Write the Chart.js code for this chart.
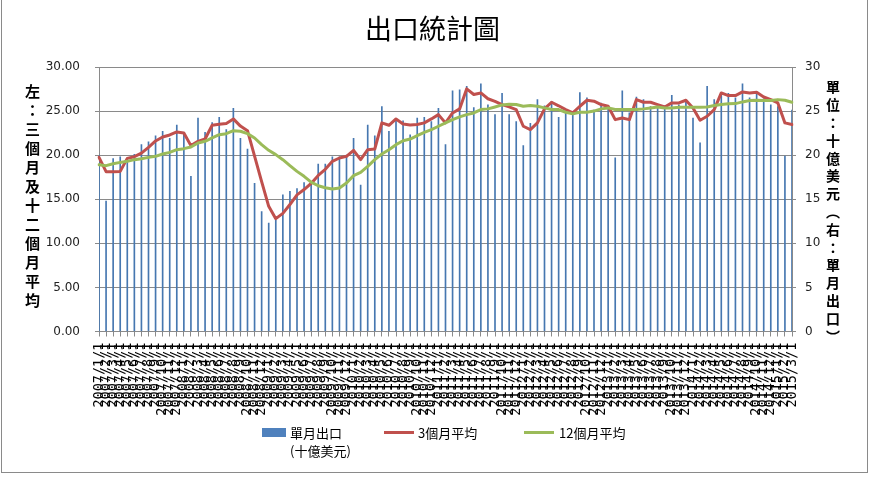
<!DOCTYPE html>
<html lang="zh-TW">
<head>
<meta charset="utf-8">
<script src="https://cdn.jsdelivr.net/npm/chart.js@4.4.0/dist/chart.umd.min.js"></script>
<style>
html,body{margin:0;padding:0;background:#fff;}
#wrap{position:relative;width:871px;height:477px;overflow:hidden;background:#fff;}
#c{position:absolute;left:0;top:0;}
.frame{position:absolute;left:1px;top:-1px;width:865px;height:472px;border:1px solid #8a8a8a;}
#title{position:absolute;left:0;top:13px;width:865px;text-align:center;font-family:"Noto Sans CJK TC";font-size:27px;line-height:30px;color:#000;}
.vt{position:absolute;writing-mode:vertical-rl;font-family:"Noto Sans CJK TC";font-weight:bold;color:#000;white-space:nowrap;}
.lt{position:absolute;font-family:"Noto Sans CJK TC";font-size:13px;line-height:18px;color:#000;white-space:nowrap;}
.key{position:absolute;}
</style>
</head>
<body>
<div id="wrap">
<canvas id="c" width="871" height="477"></canvas>
<div class="frame"></div>
<div id="title">出口統計圖</div>
<div class="vt" style="left:25px;top:84px;font-size:15px;line-height:15px;letter-spacing:4px;">左：三個月及十二個月平均</div>
<div class="vt" style="left:826px;top:80px;font-size:14px;line-height:14px;letter-spacing:3.8px;">單位：十億美元（右：單月出口）</div>
<div class="key" style="left:262px;top:428px;width:24px;height:9px;background:#4F81BD;"></div>
<div class="lt" style="left:290px;top:424px;">單月出口<br>(十億美元)</div>
<div class="key" style="left:384px;top:431px;width:30px;height:3px;background:#C0504D;"></div>
<div class="lt" style="left:418px;top:424px;">3個月平均</div>
<div class="key" style="left:524px;top:431px;width:30px;height:3px;background:#9BBB59;"></div>
<div class="lt" style="left:559px;top:424px;">12個月平均</div>
</div>
<script>
const categories = [
"2007/1/1","2007/2/1","2007/3/1","2007/4/1","2007/5/1","2007/6/1","2007/7/1","2007/8/1","2007/9/1","2007/10/1","2007/11/1","2007/12/1",
"2008/1/1","2008/2/1","2008/3/1","2008/4/1","2008/5/1","2008/6/1","2008/7/1","2008/8/1","2008/9/1","2008/10/1","2008/11/1","2008/12/1",
"2009/1/1","2009/2/1","2009/3/1","2009/4/1","2009/5/1","2009/6/1","2009/7/1","2009/8/1","2009/9/1","2009/10/1","2009/11/1","2009/12/1",
"2010/1/1","2010/2/1","2010/3/1","2010/4/1","2010/5/1","2010/6/1","2010/7/1","2010/8/1","2010/9/1","2010/10/1","2010/11/1","2010/12/1",
"2011/1/1","2011/2/1","2011/3/1","2011/4/1","2011/5/1","2011/6/1","2011/7/1","2011/8/1","2011/9/1","2011/10/1","2011/11/1","2011/12/1",
"2012/1/1","2012/2/1","2012/3/1","2012/4/1","2012/5/1","2012/6/1","2012/7/1","2012/8/1","2012/9/1","2012/10/1","2012/11/1","2012/12/1",
"2013/1/1","2013/2/1","2013/3/1","2013/4/1","2013/5/1","2013/6/1","2013/7/1","2013/8/1","2013/9/1","2013/10/1","2013/11/1","2013/12/1",
"2014/1/1","2014/2/1","2014/3/1","2014/4/1","2014/5/1","2014/6/1","2014/7/1","2014/8/1","2014/9/1","2014/10/1","2014/11/1","2014/12/1",
"2015/1/1","2015/2/1","2015/3/1"];

// 單月出口 (十億美元) - right axis
const monthlyExports = [
20.0,14.8,19.6,19.8,19.5,20.1,21.2,21.5,22.2,22.7,21.9,23.4,
22.4,17.6,24.2,22.6,23.7,24.3,22.9,25.3,21.9,20.7,16.8,13.6,
12.3,12.6,15.5,15.9,16.2,16.9,16.9,19.0,19.0,19.8,19.8,20.0,
21.9,16.6,23.4,22.2,25.5,22.7,24.1,23.9,22.3,24.2,24.3,23.8,
25.3,21.2,27.3,27.4,27.8,25.4,28.1,25.7,24.6,27.0,24.6,23.8,
21.1,23.6,26.3,25.6,26.1,24.3,24.9,24.9,27.1,26.5,25.1,25.9,
25.6,19.7,27.3,24.8,26.6,26.3,25.5,25.4,25.6,26.8,25.7,26.2,
24.2,21.4,27.8,26.3,26.9,27.0,26.5,28.1,26.5,26.9,26.4,25.7,
25.5,19.9,25.1];

// 3個月平均 - left axis
const avg3Month = [
19.75,18.13,18.13,18.16,19.64,19.83,20.24,20.89,21.61,22.06,22.29,22.63,
22.52,21.08,21.57,21.83,23.39,23.50,23.60,24.11,23.30,22.78,19.90,17.00,
14.20,12.80,13.40,14.40,15.50,16.10,16.80,17.70,18.40,19.30,19.68,19.87,
20.55,19.49,20.62,20.70,23.66,23.39,24.11,23.54,23.43,23.47,23.66,24.11,
24.60,23.66,24.79,25.25,27.52,26.88,27.06,26.40,26.10,25.74,25.47,25.17,
23.28,22.90,23.66,25.25,26.00,25.60,25.17,24.79,25.55,26.23,26.12,25.74,
25.55,24.03,24.22,24.03,26.30,26.00,26.00,25.74,25.47,25.93,25.93,26.23,
25.36,23.96,24.41,25.17,27.06,26.76,26.76,27.17,27.06,27.14,26.60,26.30,
25.93,23.66,23.47];

// 12個月平均 - left axis
const avg12Month = [
18.92,18.81,19.03,19.18,19.30,19.49,19.60,19.75,19.87,20.13,20.32,20.62,
20.74,20.93,21.38,21.57,21.95,22.32,22.44,22.78,22.71,22.44,21.95,21.19,
20.55,20.06,19.49,18.81,18.16,17.60,16.95,16.53,16.30,16.16,16.27,16.84,
17.68,18.05,18.73,19.49,20.13,20.62,21.19,21.64,21.83,22.21,22.59,22.90,
23.28,23.66,24.03,24.34,24.60,24.79,25.17,25.25,25.47,25.70,25.78,25.74,
25.55,25.63,25.55,25.36,25.17,25.17,24.87,24.68,24.87,24.87,25.00,25.25,
25.36,25.17,25.17,25.17,25.17,25.25,25.36,25.47,25.36,25.36,25.44,25.44,
25.44,25.44,25.47,25.63,25.74,25.82,25.85,26.04,26.20,26.23,26.20,26.20,
26.30,26.23,26.00];

const gridColor = '#8a8a8a';

new Chart(document.getElementById('c'), {
  type: 'bar',
  data: {
    labels: categories,
    datasets: [
      { type: 'line', label: '12個月平均', data: avg12Month, yAxisID: 'y',
        borderColor: '#9BBB59', backgroundColor: '#9BBB59', borderWidth: 3,
        pointRadius: 0, tension: 0, order: 1, borderJoinStyle: 'round', borderCapStyle: 'round' },
      { type: 'line', label: '3個月平均', data: avg3Month, yAxisID: 'y',
        borderColor: '#C0504D', backgroundColor: '#C0504D', borderWidth: 3,
        pointRadius: 0, tension: 0, order: 2, borderJoinStyle: 'round', borderCapStyle: 'round' },
      { type: 'bar', label: '單月出口(十億美元)', data: monthlyExports, yAxisID: 'y1',
        backgroundColor: '#4677B0', barThickness: 1, order: 3 }
    ]
  },
  options: {
    responsive: false,
    animation: false,
    layout: { padding: { left: 0, right: 0, top: 67, bottom: 55.5 } },
    plugins: { legend: { display: false }, title: { display: false }, tooltip: { enabled: false } },
    scales: {
      x: {
        offset: false,
        grid: { offset: false, drawOnChartArea: false, tickLength: 5, color: gridColor },
        border: { color: gridColor },
        ticks: { autoSkip: false, maxRotation: 90, minRotation: 90, padding: 6, color: '#000',
                 font: { family: 'DejaVu Sans Mono', size: 13.5 } },
        afterFit: s => { s.height = 90; }
      },
      y: {
        position: 'left', min: 0, max: 30,
        grid: { color: gridColor, tickLength: 4 },
        border: { color: gridColor },
        ticks: { stepSize: 5, padding: 15, color: '#222', font: { family: 'DejaVu Sans', size: 12 },
                 callback: v => Number(v).toFixed(2) },
        afterFit: s => { s.width = 99; }
      },
      y1: {
        position: 'right', min: 0, max: 30,
        grid: { drawOnChartArea: false, color: gridColor, tickLength: 4 },
        border: { color: gridColor },
        ticks: { stepSize: 5, padding: 9, color: '#222', font: { family: 'DejaVu Sans', size: 12 } },
        afterFit: s => { s.width = 79; }
      }
    }
  }
});
</script>
</body>
</html>
